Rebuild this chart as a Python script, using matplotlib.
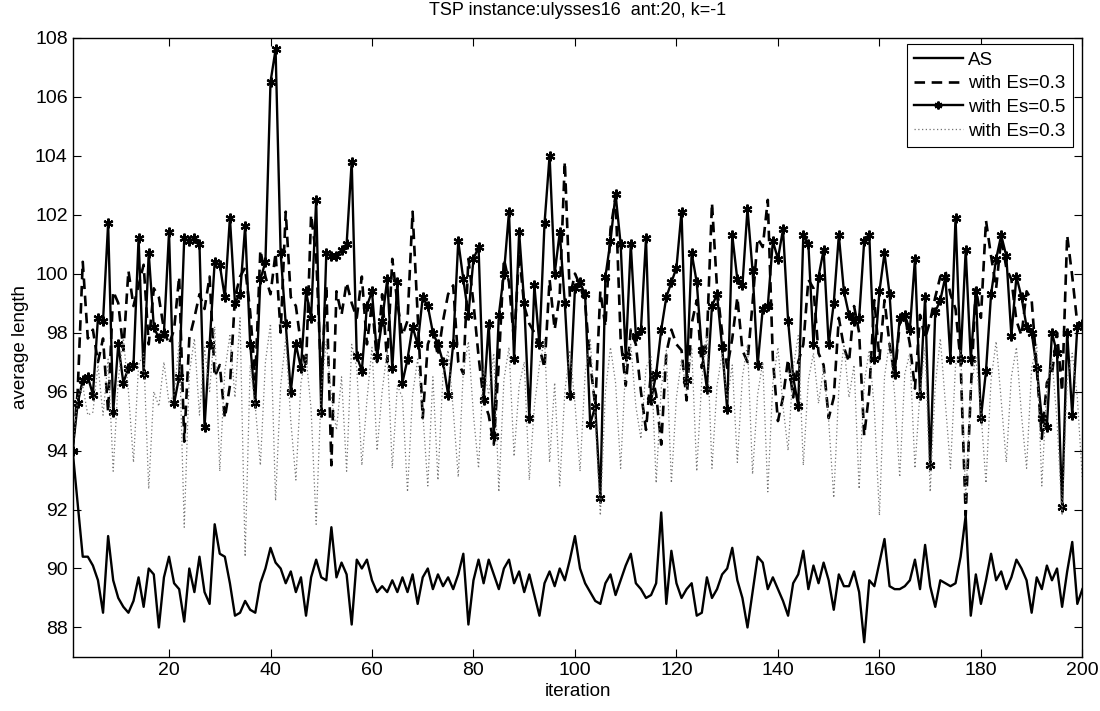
import numpy as np
import matplotlib
matplotlib.use("Agg")
import matplotlib.pyplot as plt

plt.rcParams['font.family'] = ['Liberation Sans', 'DejaVu Sans']

# data (iterations 1..200)
iteration = np.arange(1, 201)

avg_as = [
    94.0, 92.2, 90.4, 90.4, 90.1, 89.6, 88.5, 91.1, 89.6, 89.0,
    88.7, 88.5, 88.9, 89.7, 88.7, 90.0, 89.8, 88.0, 89.7, 90.4,
    89.5, 89.3, 88.2, 90.0, 89.2, 90.4, 89.2, 88.8, 91.5, 90.5,
    90.4, 89.5, 88.4, 88.5, 88.9, 88.6, 88.5, 89.5, 90.0, 90.7,
    90.2, 90.0, 89.5, 89.9, 89.2, 89.7, 88.4, 89.7, 90.3, 89.7,
    89.6, 91.4, 89.7, 90.2, 89.8, 88.1, 90.3, 90.0, 90.3, 89.6,
    89.2, 89.4, 89.2, 89.6, 89.2, 89.7, 89.2, 89.8, 88.8, 89.7,
    90.0, 89.3, 89.8, 89.4, 89.7, 89.3, 89.8, 90.5, 88.1, 89.6,
    90.3, 89.5, 90.3, 89.8, 89.3, 90.0, 90.3, 89.5, 89.9, 89.2,
    89.8, 89.1, 88.4, 89.5, 89.9, 89.4, 90.0, 89.6, 90.3, 91.1,
    90.0, 89.5, 89.2, 88.9, 88.8, 89.5, 89.8, 89.1, 89.6, 90.1,
    90.5, 89.5, 89.3, 89.0, 89.1, 89.5, 91.9, 88.8, 90.6, 89.5,
    89.0, 89.3, 89.5, 88.4, 88.5, 89.7, 89.0, 89.3, 89.8, 90.0,
    90.7, 89.6, 89.0, 88.0, 89.2, 90.4, 90.2, 89.3, 89.7, 89.3,
    88.9, 88.4, 89.5, 89.8, 90.6, 89.3, 90.1, 89.5, 90.2, 89.6,
    88.6, 89.8, 89.4, 89.4, 89.9, 89.2, 87.5, 89.6, 89.4, 90.2,
    91.0, 89.4, 89.3, 89.3, 89.4, 89.6, 90.3, 89.3, 90.8, 89.4,
    88.7, 89.6, 89.5, 89.4, 89.5, 90.4, 91.8, 88.4, 89.8, 88.8,
    89.6, 90.5, 89.6, 89.9, 89.3, 89.7, 90.3, 90.0, 89.6, 88.5,
    89.7, 89.3, 90.1, 89.6, 90.0, 88.7, 89.9, 90.9, 88.8, 89.3,
]

avg_es03 = [
    94.0, 96.0, 100.4, 97.8, 98.1, 97.0, 97.8, 95.3, 99.4, 99.0,
    97.4, 100.1, 98.9, 99.6, 100.3, 97.6, 99.5, 99.2, 98.1, 97.6,
    98.1, 99.9, 94.3, 97.8, 98.5, 99.3, 98.8, 99.9, 96.5, 96.9,
    95.1, 96.2, 99.2, 99.9, 100.2, 98.7, 96.4, 100.8, 99.9, 99.3,
    100.7, 98.0, 102.1, 99.2, 98.9, 97.6, 96.8, 102.0, 100.6, 96.4,
    99.6, 93.5, 99.4, 98.6, 99.7, 99.0, 98.5, 99.9, 97.6, 99.0,
    97.0, 99.3, 97.0, 100.5, 99.0, 97.9, 98.4, 102.1, 98.6, 95.1,
    97.6, 98.1, 97.2, 98.4, 99.3, 99.6, 97.0, 96.6, 100.5, 99.0,
    97.2, 95.7, 95.2, 94.2, 97.0, 100.5, 99.7, 97.7, 100.7, 98.9,
    98.3, 98.0, 97.5, 96.8, 99.8, 98.1, 99.3, 103.8, 99.2, 100.0,
    99.6, 99.0, 97.0, 95.5, 99.4, 98.2, 101.5, 102.6, 97.8, 96.2,
    98.1, 97.6, 96.0, 94.7, 96.7, 95.9, 94.2, 97.3, 98.1, 97.6,
    97.4, 95.7, 98.3, 99.1, 96.8, 97.8, 102.4, 99.5, 98.0, 96.8,
    97.8, 99.2, 97.4, 97.0, 99.0, 101.2, 100.9, 102.5, 97.1, 95.0,
    95.8, 97.1, 95.8, 97.0, 97.6, 99.8, 99.5, 97.3, 96.9, 95.1,
    95.8, 98.5, 97.5, 97.0, 98.9, 98.0, 94.5, 96.0, 99.1, 97.1,
    99.1, 97.6, 96.5, 98.3, 98.6, 97.6, 96.1, 98.6, 97.8, 98.4,
    99.2, 99.9, 100.1, 99.3, 98.8, 97.0, 91.8, 96.0, 99.5, 98.5,
    101.8, 100.6, 99.5, 101.2, 100.2, 99.8, 98.4, 97.9, 99.4, 99.1,
    96.8, 94.4, 96.3, 96.6, 98.0, 96.0, 101.3, 99.9, 98.3, 98.2,
]

avg_es05 = [
    94.0, 95.6, 96.4, 96.5, 95.9, 98.5, 98.4, 101.7, 95.3, 97.6,
    96.3, 96.8, 96.9, 101.2, 96.6, 100.7, 98.2, 97.8, 98.0, 101.4,
    95.6, 96.5, 101.2, 101.1, 101.2, 101.0, 94.8, 97.6, 100.4, 100.3,
    99.2, 101.9, 99.0, 99.3, 101.6, 97.6, 95.6, 99.8, 100.4, 106.5,
    107.6, 100.7, 98.3, 96.0, 97.6, 96.8, 99.4, 98.5, 102.5, 95.3,
    100.7, 100.6, 100.6, 100.8, 101.0, 103.8, 97.2, 96.7, 98.9, 99.4,
    97.2, 98.4, 99.8, 96.8, 99.7, 96.3, 97.1, 98.2, 97.6, 99.2,
    98.9, 98.0, 97.6, 97.0, 95.9, 97.6, 101.1, 99.8, 98.6, 100.5,
    100.9, 95.7, 98.3, 94.5, 98.6, 100.0, 102.1, 97.1, 101.4, 99.0,
    95.1, 99.6, 97.6, 101.7, 104.0, 100.0, 101.4, 99.0, 95.9, 99.5,
    99.7, 99.3, 94.9, 95.5, 92.4, 99.9, 101.1, 102.7, 101.0, 97.2,
    101.0, 97.9, 98.1, 101.2, 95.7, 96.6, 98.1, 99.2, 99.7, 100.2,
    102.1, 96.4, 100.7, 99.7, 97.4, 96.1, 98.9, 99.3, 97.5, 95.4,
    101.3, 99.8, 99.6, 102.2, 100.1, 96.9, 98.8, 98.9, 101.1, 100.5,
    101.5, 98.4, 96.5, 95.5, 101.3, 101.0, 97.6, 99.9, 100.8, 97.6,
    99.0, 101.3, 99.4, 98.6, 98.4, 98.5, 101.1, 101.3, 97.1, 99.4,
    100.7, 99.3, 96.6, 98.5, 98.6, 98.1, 100.5, 95.9, 99.2, 93.5,
    98.7, 99.1, 99.9, 97.1, 101.9, 97.1, 100.8, 97.1, 99.4, 95.1,
    96.7, 99.3, 100.5, 101.3, 100.6, 97.9, 99.9, 99.2, 98.2, 98.0,
    96.8, 95.1, 94.8, 98.0, 97.3, 92.1, 98.0, 95.2, 98.2, 98.3,
]

avg_es03_b = [
    94.0, 95.8, 96.2, 95.2, 95.3, 96.9, 95.2, 97.1, 93.3, 96.4,
    97.8, 96.0, 93.6, 96.9, 97.3, 92.7, 96.0, 95.5, 97.0, 95.6,
    95.9, 97.7, 91.4, 96.6, 97.8, 95.2, 97.5, 96.0, 98.2, 93.3,
    96.7, 97.9, 95.8, 98.5, 90.4, 96.9, 95.5, 93.5, 97.0, 98.3,
    92.3, 96.2, 97.8, 95.0, 93.0, 96.3, 97.2, 95.4, 91.5, 96.1,
    97.7, 95.8, 94.7, 96.5, 93.3, 97.6, 96.8, 93.5, 95.7, 97.5,
    94.0, 96.0, 97.4, 93.4, 96.2, 95.8, 92.6, 95.9, 97.1, 95.3,
    92.8, 96.5, 93.0, 96.6, 97.4, 95.4, 93.1, 96.7, 97.7, 95.2,
    93.4, 96.8, 95.9, 97.3, 92.6, 96.4, 97.5, 93.8, 96.2, 97.0,
    93.0, 95.5, 96.9, 97.8, 93.6, 96.3, 92.8, 96.0, 97.4, 95.6,
    93.3, 96.6, 97.8, 95.1, 91.8, 96.0, 97.5, 96.3, 93.4, 96.9,
    97.6, 95.5, 94.4, 96.8, 97.2, 92.9, 96.1, 97.4, 92.9, 95.8,
    97.1, 96.0, 97.5, 93.3, 96.4, 97.9, 93.4, 96.2, 97.3, 95.7,
    96.9, 93.6, 96.5, 97.6, 93.2, 95.9, 97.0, 92.6, 96.3, 97.5,
    95.5, 94.0, 96.8, 97.9, 93.5, 96.4, 97.3, 95.6, 96.8, 95.0,
    92.4, 96.1, 97.6, 95.8, 96.9, 92.7, 96.3, 97.4, 95.4, 91.8,
    96.5, 97.7, 95.9, 93.1, 96.6, 97.3, 93.4, 96.0, 97.5, 92.6,
    96.2, 97.8, 95.6, 93.4, 96.9, 97.4, 92.3, 96.0, 97.2, 95.3,
    92.9, 96.4, 97.7, 95.7, 93.6, 96.5, 97.5, 95.2, 93.4, 96.8,
    97.6, 92.8, 96.2, 97.1, 95.0, 91.8, 96.4, 97.3, 95.8, 93.0,
]

labels = ['AS', 'with Es=0.3', 'with Es=0.5', 'with Es=0.3']

fig = plt.figure(figsize=(11, 7.11), dpi=100)
ax = fig.add_axes([0.066, 0.076, 0.918, 0.871])

# asterisk marker like the matlab '*'
star = (6, 2, 0)

ax.plot(iteration, avg_as, '-', color='k', lw=1.7, label=labels[0])
ax.plot(iteration, avg_es03, color='k', lw=1.9, linestyle=(0, (4, 2.5)), label=labels[1])
ax.plot(iteration, avg_es05, '-', color='k', lw=1.7, marker=star, ms=7, mew=1.6,
        label=labels[2])
ax.plot(iteration, avg_es03_b, color='0.45', lw=0.9, linestyle=(0, (1, 2)), label=labels[3])

ax.set_xlim(1, 200)
ax.set_ylim(87, 108)
ax.set_xticks(np.arange(20, 201, 20))
ax.set_yticks(np.arange(88, 109, 2))
ax.tick_params(direction='in', labelsize=14, length=6, top=True, right=True,
               labeltop=False, labelright=False)
for s in ax.spines.values():
    s.set_linewidth(1.0)

ax.set_title('TSP instance:ulysses16  ant:20, k=-1', fontsize=13, pad=16)
ax.set_xlabel('iteration', fontsize=13.5, labelpad=3)
ax.set_ylabel('average length', fontsize=13.5, labelpad=4)

leg = ax.legend(loc='upper right', bbox_to_anchor=(0.991, 0.990), borderaxespad=0,
                fontsize=13.5, fancybox=False, framealpha=1, edgecolor='k',
                handlelength=2.6, handletextpad=0.3, labelspacing=0.35,
                borderpad=0.4, markerscale=0.8)
leg.get_frame().set_linewidth(0.8)

fig.savefig('out.png', dpi=100)
